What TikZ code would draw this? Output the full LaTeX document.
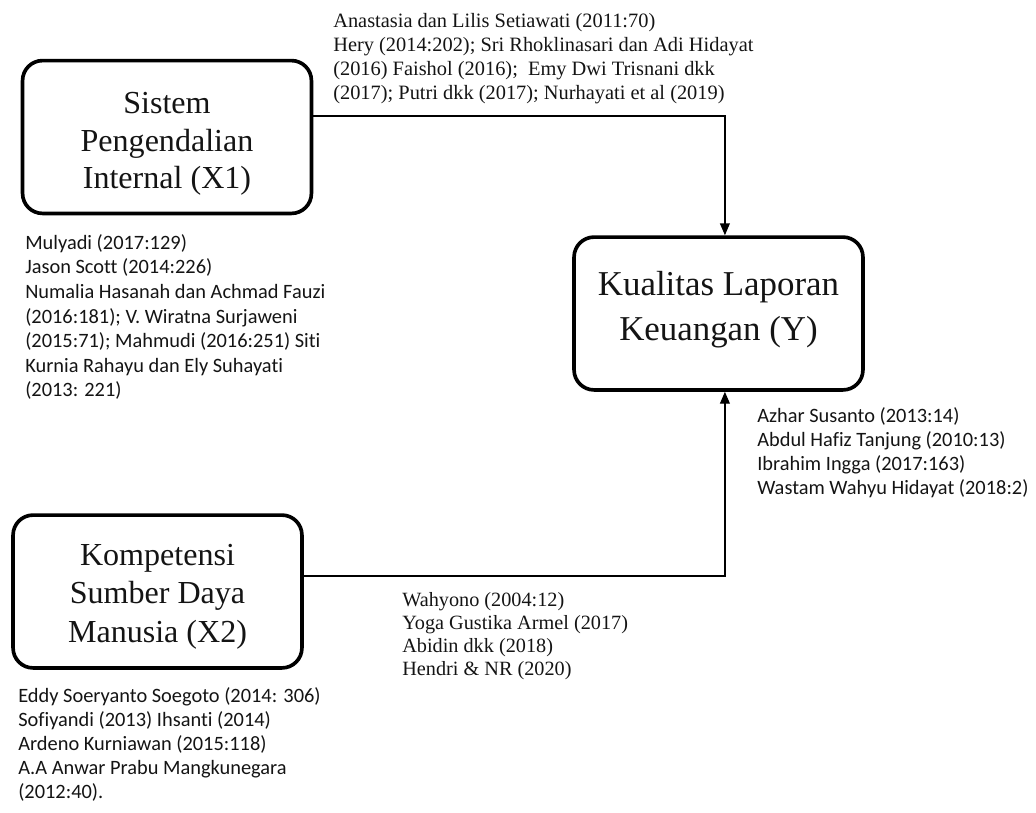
\documentclass[tikz,border=0pt]{standalone}
\usepackage{fontspec}
\setmainfont{Liberation Serif}
\newfontfamily\notefont[Ligatures=NoCommon]{Carlito}
\usepackage{xcolor,tikz}
\usetikzlibrary{arrows.meta}
\definecolor{kkLine}{HTML}{000000}
\definecolor{kkText}{HTML}{141414}

\tikzset{
  varbox/.style={draw=kkLine, line width=2.6pt, rounded corners=0.5cm,
    inner sep=0pt, minimum width=7.22cm, minimum height=3.82cm},
  vartext/.style={align=center, text=kkText, inner sep=0pt},
  refserif/.style={anchor=north west, align=left, inner sep=0pt, text=kkText,
    font=\fontsize{14.5}{17.2}\selectfont},
  refsans/.style={anchor=north west, align=left, inner sep=0pt, text=kkText,
    font=\notefont\fontsize{14.5}{17.2}\selectfont},
  link/.style={draw=kkLine, line width=1pt, -{Triangle[length=8.5pt,width=7pt]}},
}

\begin{document}
\begin{tikzpicture}[x=0.025cm, y=-0.025cm]

% --- CANVAS (pixel grid of the original, y downwards) ---
\useasboundingbox (0,0) rectangle (1036,812);

% --- VARIABLE BOXES ---
\node[varbox] (x1) at (167,137) {};
\node[varbox] (ky) at (718.5,313.5) {};
\node[varbox] (x2) at (157.5,591.5) {};

% text sits a little off the middle of each box
\node[vartext, font=\fontsize{22.8}{26.6}\selectfont] (x1txt)
  at ([yshift=-0.175cm]x1.center) {Sistem\\Pengendalian\\Internal (X1)};
\node[vartext, font=\fontsize{24.8}{32}\selectfont] (kytxt)
  at ([yshift=0.1cm]ky.center) {Kualitas Laporan\\Keuangan (Y)};
\node[vartext, font=\fontsize{22.8}{27.4}\selectfont] (x2txt)
  at ([yshift=-0.125cm]x2.center) {Kompetensi\\Sumber Daya\\Manusia (X2)};

% --- CONNECTORS (elbows into Y) ---
\draw[link] ([yshift=0.525cm]x1.east) -| ([xshift=0.16cm]ky.north);
\draw[link] ([yshift=0.39cm]x2.east) -| ([xshift=0.16cm]ky.south);

% --- REFERENCES ---
% X1 -> Y
\node[refserif] (refxone) at (333,13)
  {Anastasia dan Lilis Setiawati (2011:70)\\
   Hery (2014:202); Sri Rhoklinasari dan Adi Hidayat\\
   (2016) Faishol (2016);\ \ Emy Dwi Trisnani dkk\\
   (2017); Putri dkk (2017); Nurhayati et al (2019)};
% X1
\node[refsans, font=\notefont\fontsize{14.5}{17.5}\selectfont] (refsip) at (25,234)
  {Mulyadi (2017:129)\\
   Jason Scott (2014:226)\\
   Numalia Hasanah dan Achmad Fauzi\\
   (2016:181); V. Wiratna Surjaweni\\
   (2015:71); Mahmudi (2016:251) Siti\\
   Kurnia Rahayu dan Ely Suhayati\\
   (2013: 221)};
% Y
\node[refsans] (refkly) at (757,407)
  {Azhar Susanto (2013:14)\\
   Abdul Hafiz Tanjung (2010:13)\\
   Ibrahim Ingga (2017:163)\\
   Wastam Wahyu Hidayat (2018:2)};
% X2 -> Y
\node[refserif, font=\fontsize{14.4}{16.3}\selectfont] (refxtwo) at (402,592)
  {Wahyono (2004:12)\\
   Yoga Gustika Armel (2017)\\
   Abidin dkk (2018)\\
   Hendri \& NR (2020)};
% X2
\node[refsans] (refksdm) at (18,687)
  {Eddy Soeryanto Soegoto (2014: 306)\\
   Sofiyandi (2013) Ihsanti (2014)\\
   Ardeno Kurniawan (2015:118)\\
   A.A Anwar Prabu Mangkunegara\\
   (2012:40).};

\end{tikzpicture}
\end{document}
